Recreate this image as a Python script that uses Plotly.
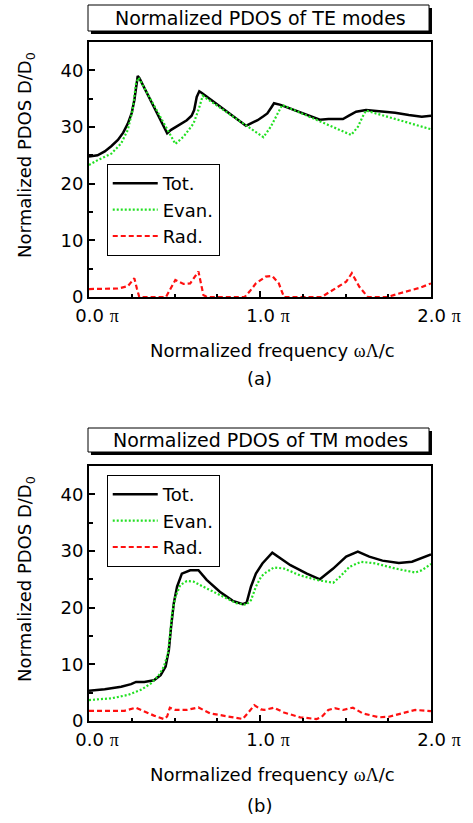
import plotly.graph_objects as go

# ---------------- data (frequency in units of pi) ----------------
te_tot_x = [0.0, 0.05, 0.092, 0.13, 0.169, 0.2, 0.227, 0.25, 0.265, 0.278, 0.285, 0.295, 0.37, 0.457,
            0.48, 0.505, 0.54, 0.572, 0.6, 0.615, 0.63, 0.645, 0.66, 0.918, 0.95, 0.986, 1.02, 1.043,
            1.065, 1.082, 1.12, 1.35, 1.40, 1.485, 1.52, 1.562, 1.62, 1.70, 1.79, 1.87, 1.946, 2.0]
te_tot_y = [24.8, 25.0, 25.7, 26.6, 27.7, 29.0, 30.6, 32.5, 34.7, 37.5, 39.0, 38.6, 34.0, 28.9,
            29.5, 30.0, 30.6, 31.2, 32.0, 33.0, 35.3, 36.3, 36.0, 30.2, 30.7, 31.2, 31.9, 32.4,
            33.4, 34.2, 33.9, 31.3, 31.4, 31.4, 32.0, 32.7, 33.0, 32.8, 32.5, 32.1, 31.8, 32.0]

te_evan_x = [0.0, 0.054, 0.131, 0.188, 0.227, 0.255, 0.275, 0.29, 0.505, 0.553, 0.611, 0.64, 0.665,
             1.02, 1.062, 1.10, 1.13, 1.533, 1.572, 1.60, 1.62, 2.0]
te_evan_y = [23.3, 24.2, 25.3, 27.1, 29.5, 33.0, 37.7, 38.7, 27.0, 28.3, 30.6, 33.0, 35.5,
             28.2, 30.0, 32.1, 33.9, 28.6, 30.0, 31.8, 32.9, 29.6]

te_rad_x = [0.0, 0.1, 0.169, 0.227, 0.265, 0.28, 0.294, 0.45, 0.47, 0.505, 0.553, 0.592, 0.64, 0.655,
            0.669, 0.69, 0.91, 0.94, 0.976, 1.033, 1.072, 1.11, 1.14, 1.36, 1.437, 1.504, 1.537,
            1.581, 1.63, 1.745, 1.80, 1.86, 1.937, 2.0]
te_rad_y = [1.4, 1.45, 1.5, 1.9, 3.3, 1.5, 0.0, 0.0, 1.0, 3.0, 2.3, 2.4, 4.5, 2.0,
            0.35, 0.0, 0.0, 1.0, 2.4, 3.6, 3.7, 2.4, 0.0, 0.0, 1.5, 2.7, 4.2,
            1.8, 0.0, 0.0, 0.5, 0.95, 1.65, 2.4]

tm_tot_x = [0.0, 0.092, 0.188, 0.246, 0.275, 0.323, 0.38, 0.419, 0.448, 0.467, 0.48, 0.496, 0.515,
            0.543, 0.592, 0.64, 0.688, 0.765, 0.841, 0.899, 0.922, 0.947, 0.976, 1.014, 1.072,
            1.178, 1.274, 1.35, 1.428, 1.504, 1.572, 1.639, 1.716, 1.812, 1.889, 1.946, 2.0]
tm_tot_y = [5.35, 5.6, 6.05, 6.5, 6.9, 6.9, 7.2, 8.1, 9.6, 12.5, 16.6, 20.8, 23.7,
            26.0, 26.6, 26.6, 24.9, 22.8, 21.2, 20.6, 20.9, 23.7, 26.0, 27.8, 29.7,
            27.5, 26.0, 25.0, 26.9, 29.0, 29.9, 29.0, 28.3, 27.9, 28.1, 28.7, 29.4]

tm_evan_x = [0.0, 0.131, 0.227, 0.304, 0.361, 0.409, 0.438, 0.461, 0.473, 0.486, 0.505, 0.534, 0.572,
             0.611, 0.688, 0.784, 0.861, 0.918, 0.947, 0.976, 1.005, 1.024, 1.082, 1.14, 1.235,
             1.331, 1.428, 1.466, 1.523, 1.591, 1.677, 1.793, 1.908, 1.946, 2.0]
tm_evan_y = [3.7, 4.0, 4.6, 5.5, 6.6, 8.1, 9.6, 11.9, 14.9, 19.0, 21.9, 24.0, 24.7,
             24.6, 23.4, 21.9, 20.8, 20.5, 21.3, 23.7, 25.4, 26.0, 27.1, 26.9, 25.7,
             24.9, 24.4, 25.4, 27.2, 28.1, 27.8, 26.9, 26.2, 26.6, 27.7]

tm_rad_x = [0.0, 0.207, 0.275, 0.323, 0.38, 0.438, 0.457, 0.473, 0.505, 0.572, 0.64, 0.707, 0.784,
            0.899, 0.928, 0.967, 1.005, 1.024, 1.082, 1.14, 1.235, 1.331, 1.36, 1.399, 1.437,
            1.485, 1.543, 1.60, 1.696, 1.754, 1.831, 1.908, 2.0]
tm_rad_y = [1.8, 1.8, 2.35, 1.65, 0.95, 0.35, 0.8, 2.35, 1.95, 1.95, 2.4, 1.35, 0.9,
            0.35, 1.35, 2.8, 2.05, 1.95, 2.35, 1.5, 0.65, 0.35, 0.7, 1.95, 2.25,
            1.95, 2.35, 1.35, 0.65, 0.75, 1.35, 1.95, 1.75]

series_names = ["Tot.", "Evan.", "Rad."]
pi_span = "<span style='font-family:Liberation Serif'>π</span>"
x_tickvals = [0, 1, 2]
x_ticktext = ["0.0 " + pi_span, "1.0 " + pi_span, "2.0 " + pi_span]
x_half_tickvals = [0.5, 1.5]
y_tickvals = [0, 10, 20, 30, 40]
panel_titles = ["Normalized PDOS of TE modes", "Normalized PDOS of TM modes"]
panel_labels = ["(a)", "(b)"]
y_title = "Normalized PDOS D/D<sub>0</sub>"
x_title = "Normalized frequency <span style='font-family:Liberation Serif'>ωΛ</span>/c"

# ---------------- figure ----------------
FONT = "DejaVu Sans"
W, H = 473, 823
L, R, T, B = 89, 37, 42, 102
PW, PH = W - L - R, H - T - B


def xp(px):
    return (px - L) / PW


def yp(py):
    return (H - B - py) / PH


styles = [dict(color="black", width=2.5, dash="solid"),
          dict(color="#22e022", width=2.2, dash="2px,2px"),
          dict(color="#ff1010", width=2.2, dash="5px,3px")]

fig = go.Figure()
panels = [
    ("x", "y", "legend", [(te_tot_x, te_tot_y), (te_evan_x, te_evan_y), (te_rad_x, te_rad_y)]),
    ("x2", "y2", "legend2", [(tm_tot_x, tm_tot_y), (tm_evan_x, tm_evan_y), (tm_rad_x, tm_rad_y)]),
]
for xa, ya, lg, data in panels:
    for (xs, ys), name, st in zip(data, series_names, styles):
        fig.add_trace(go.Scatter(x=xs, y=ys, mode="lines", name=name, line=st,
                                 xaxis=xa, yaxis=ya, legend=lg))

axis_common = dict(showline=True, linewidth=2, linecolor="black", mirror=True,
                   showgrid=False, zeroline=False, ticks="inside", tickcolor="black",
                   tickwidth=1.5, ticklen=6,
                   tickfont=dict(family=FONT, size=18, color="black"))

top_dom = [yp(297), 1.0]
bot_dom = [0.0, yp(466)]

xcommon = dict(axis_common, range=[0, 2], tickmode="array", tickvals=x_tickvals,
               ticktext=x_ticktext, ticklabelshift=8, ticklabelstandoff=1,
               minor=dict(ticks="inside", ticklen=3.5, tickwidth=1.5, tickcolor="black",
                          dtick=0.25, tick0=0))
# overlay axes that only carry the unlabeled half-period major ticks
xhalf = dict(range=[0, 2], tickmode="array", tickvals=x_half_tickvals,
             showticklabels=False, ticks="inside", ticklen=6, tickwidth=1.5,
             tickcolor="black", showline=False, showgrid=False, zeroline=False)
ycommon = dict(axis_common, range=[0, 45], tickmode="array", tickvals=y_tickvals,
               minor=dict(ticks="inside", ticklen=3.5, tickwidth=1.5, tickcolor="black",
                          dtick=5, tick0=0))

fig.update_layout(
    xaxis=dict(xcommon, domain=[0, 1], anchor="y"),
    yaxis=dict(ycommon, domain=top_dom, anchor="x"),
    xaxis2=dict(xcommon, domain=[0, 1], anchor="y2"),
    yaxis2=dict(ycommon, domain=bot_dom, anchor="x2"),
    xaxis3=dict(xhalf, overlaying="x", anchor="y", side="bottom"),
    xaxis4=dict(xhalf, overlaying="x2", anchor="y2", side="bottom"),
)

legend_common = dict(xref="paper", yref="paper", xanchor="left", yanchor="top",
                     bgcolor="white", bordercolor="black", borderwidth=1,
                     font=dict(family=FONT, size=18, color="black"),
                     itemwidth=45, tracegroupgap=0)
fig.update_layout(
    legend=dict(legend_common, x=xp(107), y=yp(164)),
    legend2=dict(legend_common, x=xp(107), y=yp(475)),
)

shapes = []
annotations = []
for i, (ytop, ybot) in enumerate([(5, 31), (428, 452)]):
    shapes.append(dict(type="rect", xref="paper", yref="paper",
                       x0=xp(91), x1=xp(437), y0=yp(ybot + 3), y1=yp(ytop + 3),
                       fillcolor="black", line=dict(width=0), layer="above"))
    shapes.append(dict(type="rect", xref="paper", yref="paper",
                       x0=xp(88), x1=xp(434), y0=yp(ybot), y1=yp(ytop),
                       fillcolor="white", line=dict(color="black", width=1), layer="above"))
    annotations.append(dict(text=panel_titles[i], xref="paper", yref="paper",
                            x=xp(263), y=yp((ytop + ybot) / 2), xanchor="center",
                            yanchor="middle", showarrow=False,
                            font=dict(family=FONT, size=19, color="black")))

for ycen, xt_y, lab_y, lab in [(155, 350, 378, panel_labels[0]), (579, 774, 805, panel_labels[1])]:
    annotations.append(dict(text=y_title, xref="paper", yref="paper", x=xp(25), y=yp(ycen),
                            xanchor="center", yanchor="middle", textangle=-90, showarrow=False,
                            font=dict(family=FONT, size=18, color="black")))
    annotations.append(dict(text=x_title, xref="paper", yref="paper", x=xp(275.5), y=yp(xt_y),
                            xanchor="center", yanchor="middle", showarrow=False,
                            font=dict(family=FONT, size=18, color="black")))
    annotations.append(dict(text=lab, xref="paper", yref="paper", x=xp(262), y=yp(lab_y),
                            xanchor="center", yanchor="middle", showarrow=False,
                            font=dict(family=FONT, size=18, color="black")))

fig.update_layout(
    width=W, height=H, autosize=False,
    margin=dict(l=L, r=R, t=T, b=B, pad=0),
    paper_bgcolor="white", plot_bgcolor="white",
    shapes=shapes, annotations=annotations,
    font=dict(family=FONT, size=18, color="black"),
)

fig.write_html("out.html")
